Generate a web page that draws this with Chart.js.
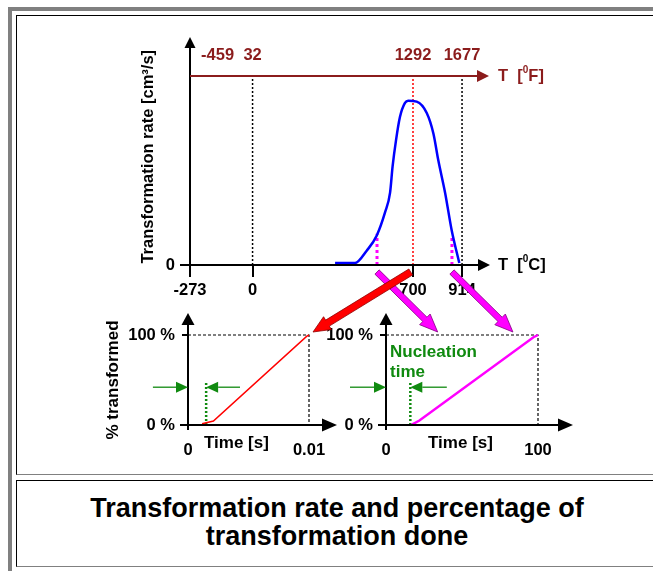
<!DOCTYPE html>
<html>
<head>
<meta charset="utf-8">
<script src="https://cdn.jsdelivr.net/npm/chart.js@4/dist/chart.umd.min.js"></script>
<style>
  body { margin: 0; background: #fff; font-family: "Liberation Sans", Arial, sans-serif; }
  #page { position: relative; width: 653px; height: 571px; overflow: hidden; }
  .frame { position: absolute; left: 8px; top: 7px; width: 700px; height: 620px;
           border-left: 4px solid #808080; border-top: 4px solid #808080; }
  .cell { position: absolute; box-sizing: border-box; border: 1px solid #808080;
          border-left-color: #000; border-top-color: #000; }
  #upper { left: 16px; top: 15px; width: 700px; height: 460px; }
  #caption { left: 16px; top: 480px; width: 642px; height: 87px; text-align: center;
             font-weight: bold; font-size: 27px; line-height: 28px; padding-top: 13px; }
  canvas { position: absolute; left: 0; top: 0; }
</style>
</head>
<body>
<div id="page">
  <div class="frame"></div>
  <div class="cell" id="upper"></div>
  <div class="cell" id="caption">Transformation rate and percentage of<br>transformation done</div>
  <canvas id="main" width="653" height="571"></canvas>
  <canvas id="fast" width="653" height="571"></canvas>
  <canvas id="slow" width="653" height="571"></canvas>
</div>
<script>
// transformation rate curve (T in deg C, rate in arbitrary units)
const tempC = [360, 447, 498, 542, 578, 600, 611, 626, 643, 665, 679, 716, 760, 789, 810, 840, 869, 902];
const rate  = [1.2, 1.2, 8.7, 18, 32, 44, 60, 76, 90, 98.6, 100, 99.4, 92.5, 80, 64, 44, 21, 1.2];
const cTicks = [-273, 0, 700, 914];
const fTicks = [-459, 32, 1292, 1677];
const cMin = -273, cMax = 1036, rateMax = 115;
const noseC = 700;
const markC = [543, 870];
const markRate = [19, 18];

// % transformed at 700 C (fast) and at 543 / 870 C (slow)
const fastTime = [0.00116, 0.0021, 0.0098, 0.01];
const fastPct  = [1.5, 4.5, 98.5, 100];
const fastTicks = [0, 0.01];
const fastNucleation = 0.0015;
const slowTime = [17, 22, 97, 100];
const slowPct  = [0.5, 5, 97.5, 100];
const slowTicks = [0, 100];
const slowNucleation = 16;
const pctTicks = [0, 100];

const BLACK = '#000', DARK_RED = '#8b1c1c', GREEN = '#108a10', MAGENTA = '#ff00ff';
const FONT = "'Liberation Sans', Arial, sans-serif";
Chart.defaults.font = { family: FONT, size: 16.5, weight: 'bold' };
Chart.defaults.color = BLACK;

const toF = c => c * 9 / 5 + 32;
const xy = (xs, ys) => xs.map((x, i) => ({ x, y: ys[i] }));
const fixSize = size => s => { if (s.isHorizontal()) s.height = size; else s.width = size; };
const setTicks = vals => s => { s.ticks = vals.map(v => ({ value: v })); };

function arrow(ctx, x1, y1, x2, y2, color, width, len, half) {
  const a = Math.atan2(y2 - y1, x2 - x1), c = Math.cos(a), s = Math.sin(a);
  const bx = x2 - len * c, by = y2 - len * s;
  ctx.save();
  ctx.strokeStyle = color; ctx.fillStyle = color; ctx.lineWidth = width;
  ctx.beginPath(); ctx.moveTo(x1, y1); ctx.lineTo(bx, by); ctx.stroke();
  ctx.beginPath(); ctx.moveTo(x2, y2);
  ctx.lineTo(bx + half * s, by - half * c);
  ctx.lineTo(bx - half * s, by + half * c);
  ctx.closePath(); ctx.fill();
  ctx.restore();
}

function fatArrow(ctx, x1, y1, x2, y2, fill, edge, shaft, head, len) {
  const a = Math.atan2(y2 - y1, x2 - x1), c = Math.cos(a), s = Math.sin(a);
  const bx = x2 - len * c, by = y2 - len * s, px = -s, py = c;
  const pts = [
    [x1 + px * shaft / 2, y1 + py * shaft / 2], [bx + px * shaft / 2, by + py * shaft / 2],
    [bx + px * head / 2, by + py * head / 2], [x2, y2],
    [bx - px * head / 2, by - py * head / 2], [bx - px * shaft / 2, by - py * shaft / 2],
    [x1 - px * shaft / 2, y1 - py * shaft / 2]];
  ctx.save();
  ctx.beginPath();
  pts.forEach((p, i) => i ? ctx.lineTo(p[0], p[1]) : ctx.moveTo(p[0], p[1]));
  ctx.closePath();
  ctx.fillStyle = fill; ctx.fill();
  ctx.strokeStyle = edge; ctx.lineWidth = 0.8; ctx.stroke();
  ctx.restore();
}

function unitLabel(ctx, x, y, unit, color) {
  ctx.save();
  ctx.fillStyle = color; ctx.textBaseline = 'middle'; ctx.textAlign = 'left';
  ctx.font = 'bold 16.5px ' + FONT;
  ctx.fillText('T  [', x, y);
  let w = ctx.measureText('T  [').width;
  ctx.font = 'bold 10px ' + FONT;
  ctx.fillText('0', x + w, y - 6);
  w += ctx.measureText('0').width;
  ctx.font = 'bold 16.5px ' + FONT;
  ctx.fillText(unit + ']', x + w, y);
  ctx.restore();
}

function text(ctx, str, x, y, color, size, align) {
  ctx.save();
  ctx.fillStyle = color; ctx.textBaseline = 'middle'; ctx.textAlign = align || 'center';
  ctx.font = 'bold ' + size + 'px ' + FONT;
  ctx.fillText(str, x, y);
  ctx.restore();
}

const dotted = (xs, ys, color, width, dash) => ({
  data: xy(xs, ys), borderColor: color, borderWidth: width, borderDash: dash,
  pointRadius: 0, clip: 4, fill: false
});

const mainAxes = {
  id: 'mainAxes',
  afterDraw(chart) {
    const { ctx, chartArea: a } = chart;
    arrow(ctx, a.left, a.bottom + 12, a.left, a.top - 39, BLACK, 2, 11, 5.5);
    arrow(ctx, a.left, a.bottom, a.right, a.bottom, BLACK, 2, 12, 6);
    arrow(ctx, a.left, a.top, a.right - 1, a.top, DARK_RED, 2, 12, 6);
    unitLabel(ctx, a.right + 8, a.top, 'F', DARK_RED);
    unitLabel(ctx, a.right + 8, a.bottom, 'C', BLACK);
  }
};

const mainChart = new Chart(document.getElementById('main'), {
  type: 'line',
  data: {
    datasets: [
      { data: xy(tempC, rate), borderColor: '#0000ff', borderWidth: 2.5,
        cubicInterpolationMode: 'monotone', pointRadius: 0, clip: 4, fill: false },
      dotted([0, 0], [0, rateMax], BLACK, 1.5, [2, 2]),
      dotted([914, 914], [0, rateMax], BLACK, 1.5, [2, 2]),
      dotted([noseC, noseC], [0, rateMax], '#ff0000', 1.5, [2, 2]),
      dotted([markC[0], markC[0]], [0, markRate[0]], MAGENTA, 3, [3, 3]),
      dotted([markC[1], markC[1]], [0, markRate[1]], MAGENTA, 3, [3, 3])
    ]
  },
  options: {
    responsive: false, animation: false, events: [],
    layout: { padding: { left: 135, right: 163, top: 36, bottom: 261 } },
    plugins: { legend: { display: false }, tooltip: { enabled: false } },
    scales: {
      x: {
        type: 'linear', min: cMin, max: cMax, afterFit: fixSize(45), afterBuildTicks: setTicks(cTicks),
        grid: { drawOnChartArea: false, tickLength: 12, color: BLACK, lineWidth: 2 },
        border: { display: false },
        ticks: { padding: 4, autoSkip: false, maxRotation: 0, callback: v => String(v) }
      },
      f: {
        axis: 'x', type: 'linear', position: 'top', min: toF(cMin), max: toF(cMax),
        afterFit: fixSize(40), afterBuildTicks: setTicks(fTicks),
        grid: { display: false }, border: { display: false },
        ticks: { color: DARK_RED, padding: 3, autoSkip: false, maxRotation: 0,
                 callback: v => (v === fTicks[0] ? '            ' : '') + String(v) }
      },
      y: {
        min: 0, max: rateMax, afterFit: fixSize(55), afterBuildTicks: setTicks([0]),
        grid: { drawOnChartArea: false, tickLength: 10, color: BLACK, lineWidth: 2 },
        border: { display: false },
        ticks: { padding: 5 },
        title: { display: true, text: '      Transformation rate [cm³/s]', padding: { top: 4, bottom: 4 } }
      }
    }
  },
  plugins: [mainAxes]
});

function smallAxes(o) {
  return {
    id: 'smallAxes',
    afterDraw(chart) {
      const { ctx, chartArea: a, scales } = chart;
      const sx = v => scales.x.getPixelForValue(v), sy = v => scales.y.getPixelForValue(v);
      arrow(ctx, a.left, a.bottom + 5, a.left, a.top - 22, BLACK, 2, 12, 6.5);
      arrow(ctx, a.left - 8, a.bottom, a.right + o.reach, a.bottom, BLACK, 2, 15, 6.5);
      text(ctx, 'Time [s]', sx(o.labelAt), a.bottom + 18, BLACK, 17);
      const ay = sy(42);
      arrow(ctx, sx(o.arrowFrom[0]), ay, sx(0), ay, GREEN, 1.3, 12, 5.5);
      arrow(ctx, sx(o.arrowFrom[1]), ay, sx(o.nucleation), ay, GREEN, 1.3, 12, 5.5);
      if (o.caption) {
        text(ctx, 'Nucleation', a.left + 4, a.top + 17, GREEN, 17, 'left');
        text(ctx, 'time', a.left + 4, a.top + 37, GREEN, 17, 'left');
      }
      if (o.after) o.after(ctx, chart);
    }
  };
}

function smallChart(id, times, pcts, ticks, nucleation, color, width, pad, yWidth, title, axesOpts) {
  return new Chart(document.getElementById(id), {
    type: 'line',
    data: {
      datasets: [
        { data: xy(times, pcts), borderColor: color, borderWidth: width, pointRadius: 0, clip: 4, fill: false },
        dotted([0, ticks[1], ticks[1]], [100, 100, 0], BLACK, 1.2, [3, 2]),
        dotted([nucleation, nucleation], [0, 46.7], GREEN, 2.5, [2, 2])
      ]
    },
    options: {
      responsive: false, animation: false, events: [],
      layout: { padding: pad },
      plugins: { legend: { display: false }, tooltip: { enabled: false } },
      scales: {
        x: {
          type: 'linear', min: ticks[0], max: ticks[1], afterFit: fixSize(40), afterBuildTicks: setTicks(ticks),
          grid: { display: false }, border: { display: false },
          ticks: { padding: 8, autoSkip: false, maxRotation: 0, callback: v => String(v) }
        },
        y: {
          min: 0, max: 100, afterFit: fixSize(yWidth), afterBuildTicks: setTicks(pctTicks),
          grid: { drawOnChartArea: false, tickLength: 6, color: BLACK, lineWidth: 2 },
          border: { display: false },
          ticks: { padding: 7, callback: v => v + ' %' },
          title: { display: !!title, text: title || '', font: { size: 17, weight: 'bold' }, padding: { top: 4, bottom: 4 } }
        }
      }
    },
    plugins: [smallAxes(axesOpts)]
  });
}

const fastChart = smallChart('fast', fastTime, fastPct, fastTicks, fastNucleation, '#ff0000', 1.5,
  { left: 99, right: 344, top: 335, bottom: 106 }, 89, '% transformed',
  { reach: 28, labelAt: 0.004, arrowFrom: [-0.0029, 0.0043], nucleation: fastNucleation });

const slowChart = smallChart('slow', slowTime, slowPct, slowTicks, slowNucleation, MAGENTA, 2.5,
  { left: 326, right: 115, top: 335, bottom: 106 }, 60, null,
  { reach: 35, labelAt: 49, arrowFrom: [-23.7, 40], nucleation: slowNucleation, caption: true,
    after(ctx, chart) {
      // arrows linking the rate curve to the two transformation plots
      const mx = mainChart.scales.x, base = mainChart.chartArea.bottom + 7;
      const sx = chart.scales.x, sy = chart.scales.y;
      fatArrow(ctx, mx.getPixelForValue(markC[0]), base, sx.getPixelForValue(34), sy.getPixelForValue(100) - 3,
        MAGENTA, '#800080', 6, 15, 18);
      fatArrow(ctx, mx.getPixelForValue(markC[1]), base, sx.getPixelForValue(83.5), sy.getPixelForValue(100) - 3,
        MAGENTA, '#800080', 6, 15, 18);
      const fx = fastChart.scales.x, fy = fastChart.scales.y;
      fatArrow(ctx, mx.getPixelForValue(690), base, fx.getPixelForValue(0.01) + 4, fy.getPixelForValue(100) - 3,
        '#ff0000', '#900000', 7, 15, 17);
    } });
</script>
</body>
</html>
